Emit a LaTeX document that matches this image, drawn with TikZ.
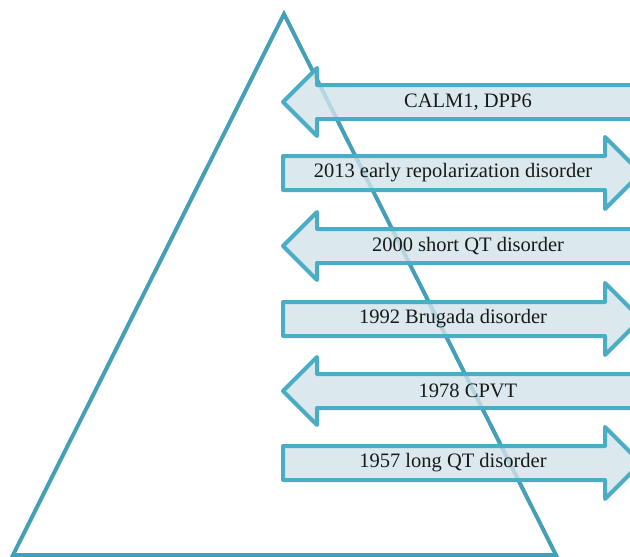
\documentclass[tikz,border=0pt]{standalone}
\usepackage{fontspec}
\setmainfont{Liberation Serif}
\usepackage{tikz}

\definecolor{bandline}{HTML}{4BACC6}
\definecolor{bandfill}{HTML}{D2E4EB}
\definecolor{pyramidline}{HTML}{459FB6}

\begin{document}
\begin{tikzpicture}[x=1pt, y=-1pt,
    band/.style={draw=bandline, line width=4pt, line join=round, fill=bandfill, fill opacity=0.8},
    bandtext/.style={font=\fontsize{20.5}{24}\selectfont, text=black!90}]
    \useasboundingbox (0,0) rectangle (630,557);
    \clip (0,0) rectangle (630,557);

    % pyramid
    \draw[pyramidline, line width=4pt] (284,14) -- (556,555) -- (13,555) -- cycle;

    % bands, top to bottom
    \draw[band] (283,102) -- (317,68) -- (317,85) -- (660,85) -- (660,119) -- (317,119) -- (317,136) -- cycle;
    \node[bandtext] (calm) at (468,102) {CALM1, DPP6};

    \draw[band] (283,156) -- (605,156) -- (605,137) -- (641,173) -- (605,209) -- (605,190) -- (283,190) -- cycle;
    \node[bandtext] (early) at (453,173) {2013 early repolarization disorder};

    \draw[band] (283,246) -- (317,212) -- (317,229) -- (660,229) -- (660,263) -- (317,263) -- (317,280) -- cycle;
    \node[bandtext] (shortqt) at (468,246) {2000 short QT disorder};

    \draw[band] (283,302) -- (605,302) -- (605,283) -- (641,319) -- (605,355) -- (605,336) -- (283,336) -- cycle;
    \node[bandtext] (brugada) at (453,319) {1992 Brugada disorder};

    \draw[band] (283,391) -- (317,357) -- (317,374) -- (660,374) -- (660,408) -- (317,408) -- (317,425) -- cycle;
    \node[bandtext] (cpvt) at (468,391) {1978 CPVT};

    \draw[band] (283,446) -- (605,446) -- (605,427) -- (641,463) -- (605,499) -- (605,480) -- (283,480) -- cycle;
    \node[bandtext] (longqt) at (453,463) {1957 long QT disorder};
\end{tikzpicture}
\end{document}
